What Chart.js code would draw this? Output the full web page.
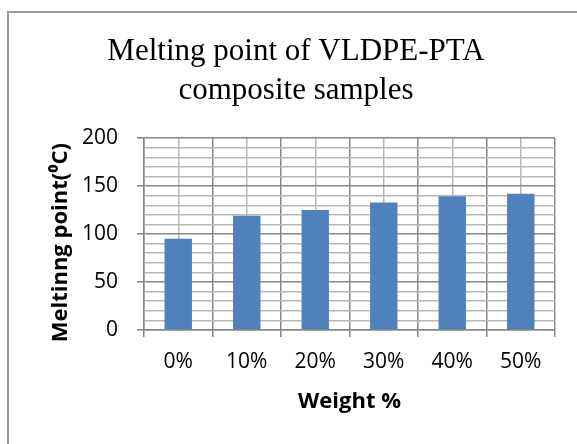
<!DOCTYPE html>
<html>
<head>
<meta charset="utf-8">
<script src="https://cdn.jsdelivr.net/npm/chart.js@4"></script>
<style>
  body { margin: 0; background: #fff; }
  canvas { display: block; }
</style>
</head>
<body>
<canvas id="meltChart" width="577" height="444"></canvas>
<script>
// chart data
const weightLabels = ["0%", "10%", "20%", "30%", "40%", "50%"];
const meltingPoints = [95, 119, 125, 133, 139.5, 142];
const titleLines = ["Melting point of VLDPE-PTA", "composite samples"];
const yTitle = "Meltinng point(\u2070C)";
const xTitle = "Weight %";

const majorGrid = "#878787";
const minorGrid = "#b8b8b8";

// white page + outer frame like the Excel chart box
const framePlugin = {
  id: "frame",
  beforeDraw(chart) {
    const ctx = chart.ctx;
    ctx.save();
    ctx.fillStyle = "#fff";
    ctx.fillRect(0, 0, chart.width, chart.height);
    ctx.strokeStyle = "#9a9a9a";
    ctx.lineWidth = 2;
    ctx.strokeRect(8, 12, 700, 700);
    ctx.restore();
  },
};

const ctx = document.getElementById("meltChart").getContext("2d");
new Chart(ctx, {
  type: "bar",
  data: {
    labels: weightLabels,
    datasets: [
      {
        label: "Melting point",
        data: meltingPoints,
        backgroundColor: "#4f81bd",
        categoryPercentage: 1,
        barPercentage: 0.4,
      },
    ],
  },
  options: {
    responsive: false,
    animation: false,
    layout: { padding: { top: 20, left: 37, right: 22, bottom: 29 } },
    plugins: {
      legend: { display: false },
      tooltip: { enabled: false },
      title: {
        display: true,
        text: titleLines,
        color: "#000",
        font: { family: "Liberation Serif", size: 31, weight: "normal", lineHeight: 1.26 },
        padding: { top: 12, bottom: 28 },
      },
    },
    scales: {
      x: {
        offset: true,
        grid: {
          offset: true,
          color: majorGrid,
          lineWidth: 1.5,
          tickLength: 7,
        },
        border: { color: majorGrid, width: 1.5 },
        ticks: {
          color: "#000",
          padding: 12,
          font: { family: "Open Sans", size: 21 },
        },
        title: {
          display: true,
          text: xTitle,
          color: "#000",
          font: { family: "Open Sans", size: 22, weight: "bold" },
          padding: { top: 14, bottom: 0 },
        },
        afterFit(scale) {
          scale.height = 85;
        },
      },
      x2: {
        type: "category",
        position: "top",
        offset: true,
        grid: { offset: false, color: minorGrid, lineWidth: 1.5, drawTicks: false },
        border: { display: false },
        ticks: { display: false },
        afterFit(scale) {
          scale.height = 0;
        },
      },
      y: {
        min: 0,
        max: 200,
        grid: {
          color: (c) => (c.tick && c.tick.value % 50 === 0 ? majorGrid : minorGrid),
          tickColor: (c) => (c.tick && c.tick.value % 50 === 0 ? majorGrid : "rgba(0,0,0,0)"),
          lineWidth: 1.5,
          tickLength: 7,
        },
        border: { color: majorGrid, width: 1.5 },
        ticks: {
          stepSize: 10,
          autoSkip: false,
          color: "#000",
          padding: 19,
          font: { family: "Open Sans", size: 21 },
          callback: (v) => (v % 50 === 0 ? v : ""),
        },
        title: {
          display: true,
          text: yTitle + "\u00a0\u00a0\u00a0",
          color: "#000",
          font: { family: "Open Sans", size: 22, weight: "bold" },
          padding: { top: 11, bottom: 0 },
        },
        afterFit(scale) {
          scale.width = 107;
        },
      },
    },
  },
  plugins: [framePlugin],
});
</script>
</body>
</html>
